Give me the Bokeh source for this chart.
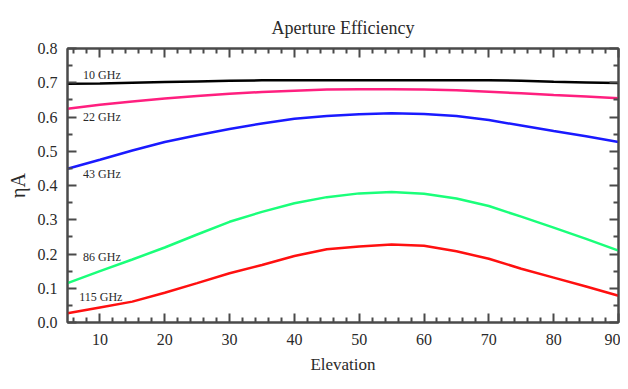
from bokeh.plotting import figure
from bokeh.models import Range1d, LinearAxis, FixedTicker, PrintfTickFormatter, Label
from bokeh.embed import file_html
from bokeh.resources import INLINE

elev = [5, 10, 15, 20, 25, 30, 35, 40, 45, 50, 55, 60, 65, 70, 75, 80, 85, 90]
eta_10 = [0.697, 0.698, 0.700, 0.702, 0.704, 0.706, 0.707, 0.707, 0.707, 0.707, 0.707, 0.707, 0.707, 0.707, 0.706, 0.703, 0.701, 0.699]
eta_22 = [0.624, 0.636, 0.645, 0.654, 0.661, 0.668, 0.673, 0.677, 0.680, 0.681, 0.681, 0.680, 0.678, 0.674, 0.669, 0.664, 0.660, 0.655]
eta_43 = [0.449, 0.475, 0.502, 0.527, 0.547, 0.565, 0.581, 0.595, 0.603, 0.608, 0.611, 0.609, 0.603, 0.591, 0.575, 0.559, 0.544, 0.527]
eta_86 = [0.115, 0.150, 0.184, 0.219, 0.257, 0.294, 0.323, 0.348, 0.366, 0.377, 0.381, 0.376, 0.362, 0.340, 0.309, 0.277, 0.244, 0.210]
eta_115 = [0.027, 0.044, 0.061, 0.087, 0.115, 0.144, 0.168, 0.194, 0.214, 0.222, 0.228, 0.224, 0.208, 0.186, 0.157, 0.131, 0.105, 0.078]
series = [
    ("10 GHz", eta_10, "#000000"),
    ("22 GHz", eta_22, "#ff1f7f"),
    ("43 GHz", eta_43, "#1a1aff"),
    ("86 GHz", eta_86, "#1aff7a"),
    ("115 GHz", eta_115, "#ff1010"),
]
x_ticks = [10, 20, 30, 40, 50, 60, 70, 80, 90]
y_ticks = [0.0, 0.1, 0.2, 0.3, 0.4, 0.5, 0.6, 0.7, 0.8]

# label layout (data coordinates for text anchors)
label_pos = {
    "10 GHz": (7.4, 0.722),
    "22 GHz": (7.4, 0.600),
    "43 GHz": (7.4, 0.435),
    "86 GHz": (7.4, 0.190),
    "115 GHz": (6.8, 0.073),
}

FONT = "Liberation Serif"
AX = "#4a4a4a"
TXT = "#2a2a2a"

p = figure(width=620, height=381, output_backend="svg", toolbar_location=None,
           x_range=Range1d(5, 90), y_range=Range1d(0, 0.8),
           min_border_left=67, min_border_right=2, min_border_top=48, min_border_bottom=59,
           x_axis_type=None, y_axis_type=None)
p.title.text = "Aperture Efficiency"
p.title.align = "center"
p.title.text_font = FONT
p.title.text_font_size = "18px"
p.title.text_font_style = "normal"
p.title.text_color = TXT
p.title.standoff = 22
p.grid.visible = False
p.outline_line_color = AX
p.outline_line_width = 2
p.background_fill_color = "white"
p.border_fill_color = "white"

minor_x = [x for x in range(6, 90, 2) if x % 10 != 0]
minor_y = [round(0.05 + 0.1 * i, 2) for i in range(8)]

def style(ax):
    ax.axis_line_color = AX
    ax.axis_line_width = 2
    ax.major_tick_line_color = AX
    ax.minor_tick_line_color = AX
    ax.major_tick_line_width = 2
    ax.minor_tick_line_width = 2
    ax.major_tick_in = 9
    ax.major_tick_out = 0
    ax.minor_tick_in = 5
    ax.minor_tick_out = 0
    ax.major_label_text_font = FONT
    ax.major_label_text_font_size = "16px"
    ax.major_label_text_color = TXT

xb = LinearAxis(ticker=FixedTicker(ticks=x_ticks, minor_ticks=minor_x))
style(xb)
xb.major_label_standoff = 11
xb.axis_label = "Elevation"
xb.axis_label_text_font = FONT
xb.axis_label_text_font_size = "17px"
xb.axis_label_text_font_style = "normal"
xb.axis_label_standoff = 7
xb.axis_label_text_color = TXT
p.add_layout(xb, "below")

xt = LinearAxis(ticker=FixedTicker(ticks=x_ticks, minor_ticks=minor_x),
                major_label_overrides={t: "" for t in x_ticks})
style(xt)
xt.major_label_standoff = 0
p.add_layout(xt, "above")

yl = LinearAxis(ticker=FixedTicker(ticks=y_ticks, minor_ticks=minor_y),
                formatter=PrintfTickFormatter(format="%.1f"))
style(yl)
yl.major_label_standoff = 10
yl.axis_label = "ηA"
yl.axis_label_text_font = FONT
yl.axis_label_text_font_size = "20px"
yl.axis_label_text_font_style = "normal"
yl.axis_label_standoff = 6
yl.axis_label_text_color = TXT
p.add_layout(yl, "left")

yr = LinearAxis(ticker=FixedTicker(ticks=y_ticks, minor_ticks=minor_y),
                major_label_overrides={t: "" for t in y_ticks})
style(yr)
yr.major_label_standoff = 0
p.add_layout(yr, "right")

for name, vals, col in series:
    p.line(elev, vals, line_color=col, line_width=2.5)
    lx, ly = label_pos[name]
    p.add_layout(Label(x=lx, y=ly, text=name, text_font=FONT, text_font_size="12px",
                       text_color=TXT, text_baseline="middle", text_align="left"))

open("out.html", "w").write(file_html(p, INLINE))
